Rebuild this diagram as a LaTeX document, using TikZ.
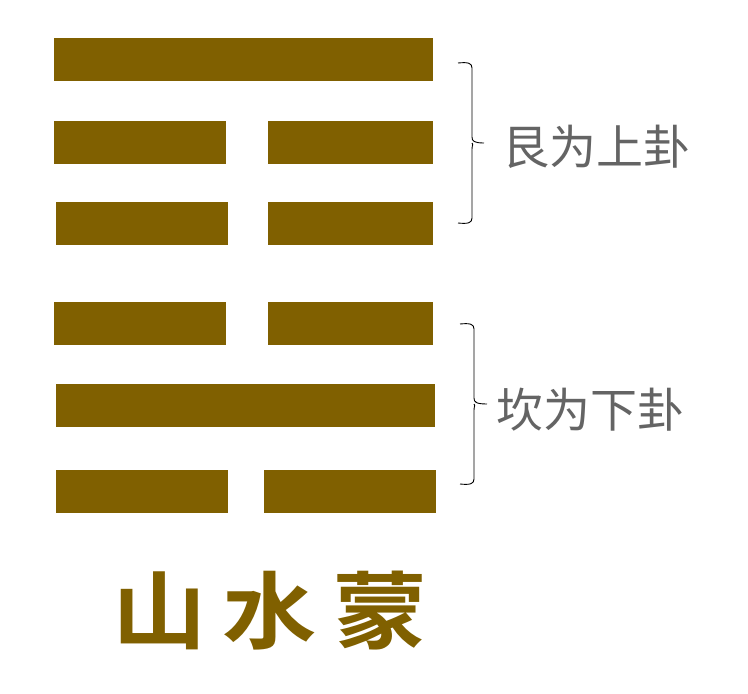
\documentclass[tikz,border=0pt]{standalone}
\usepackage{fontspec}
\newfontfamily\cjk{Noto Sans CJK SC}
\newfontfamily\cjkb{Noto Sans CJK SC Bold}
\definecolor{yao}{RGB}{128,96,0}
\definecolor{lbl}{RGB}{100,100,100}
\begin{document}
\begin{tikzpicture}[x=1pt,y=-1pt,
  bar/.style={fill=yao,draw=none},
  brace/.style={draw=black,line width=0.9pt},
  lab/.style={text=lbl,font=\cjk\fontsize{47}{47}\selectfont,inner sep=0pt},
  title/.style={text=yao,font=\cjkb\fontsize{84}{84}\selectfont,inner sep=0pt,xscale=1.12}]
\useasboundingbox (0,0) rectangle (748,694);
% upper trigram (Gen)
\path[bar] (54,38) rectangle (433,81);
\path[bar] (54,121) rectangle (226,164);
\path[bar] (268,121) rectangle (433,164);
\path[bar] (56,202) rectangle (228,245);
\path[bar] (268,202) rectangle (433,245);
% lower trigram (Kan)
\path[bar] (54,302) rectangle (226,345);
\path[bar] (268,302) rectangle (433,345);
\path[bar] (56,384) rectangle (435,427);
\path[bar] (56,470) rectangle (228,513);
\path[bar] (264,470) rectangle (436,513);
% braces
\coordinate (b1t) at (458,63);
\coordinate (b1b) at (458,223);
\coordinate (b1m) at (484,143);
\draw[brace] (b1t) .. controls (468,62) and (472,63) .. (472,68) -- (472,137)
  .. controls (472,141) and (474,143) .. (b1m)
  (472,143) .. controls (474,143) and (472,145) .. (472,149) -- (472,218)
  .. controls (472,223) and (468,224) .. (b1b);
\coordinate (b2t) at (460,324);
\coordinate (b2b) at (460,484);
\coordinate (b2m) at (487,404);
\draw[brace] (b2t) .. controls (470,323) and (474,324) .. (474,329) -- (474,398)
  .. controls (474,402) and (476,404) .. (b2m)
  (474,404) .. controls (476,404) and (474,406) .. (474,410) -- (474,479)
  .. controls (474,484) and (470,485) .. (b2b);
% labels
\node[lab,anchor=west] (up) at (502,147) {艮为上卦};
\node[lab,anchor=west] (dn) at (496,410) {坎为下卦};
% title
\node[title] (t1) at (160,611) {山};
\node[title] (t2) at (270,611) {水};
\node[title] (t3) at (381,611) {蒙};
\end{tikzpicture}
\end{document}
